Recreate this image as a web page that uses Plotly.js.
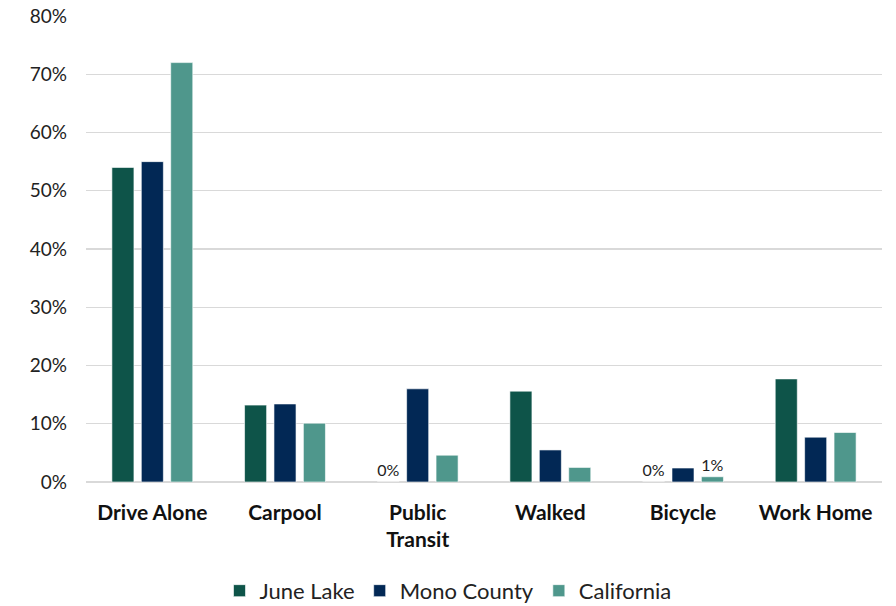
<!DOCTYPE html>
<html>
<head>
<meta charset="utf-8">
<script src="https://cdn.plot.ly/plotly-3.0.1.min.js"></script>
<style>html,body{margin:0;padding:0;background:#fff;}#chart{width:896px;height:606px;}</style>
</head>
<body>
<div id="chart"></div>
<script>
const categories = ["Drive Alone", "Carpool", "Public<br>Transit", "Walked", "Bicycle", "Work Home"];
const juneLake = [54, 13.2, 0, 15.6, 0, 17.7];
const monoCounty = [55, 13.4, 16.0, 5.5, 2.4, 7.7];
const california = [72, 10.1, 4.6, 2.5, 0.9, 8.5];
const juneLakeLabels = ["", "", "0%", "", "0%", ""];
const monoCountyLabels = ["", "", "", "", "", ""];
const californiaLabels = ["", "", "", "", "1%", ""];
const yTickVals = [0, 10, 20, 30, 40, 50, 60, 70, 80];
const yTickText = ["0%", "10%", "20%", "30%", "40%", "50%", "60%", "70%", "80%"];

const font = "Lato, 'Open Sans', sans-serif";
function series(name, y, labels, color) {
  return {
    type: "bar", name: name, x: categories, y: y, text: labels,
    textposition: "outside", cliponaxis: false, constraintext: "none",
    textfont: {family: font, size: 16, color: "#222"},
    marker: {color: color, line: {color: "rgba(255,255,255,0.6)", width: 1}},
    hoverinfo: "skip"
  };
}
const data = [
  series("June Lake", juneLake, juneLakeLabels, "#0e5449"),
  series("Mono County", monoCounty, monoCountyLabels, "#022855"),
  series("California", california, californiaLabels, "#4f978c")
];
const layout = {
  width: 896, height: 606,
  margin: {l: 86, r: 14, t: 16, b: 124, autoexpand: false},
  paper_bgcolor: "#fff", plot_bgcolor: "#fff",
  barmode: "group", bargap: 0.335, bargroupgap: 0.25,
  font: {family: font, size: 17, color: "#222"},
  showlegend: true,
  legend: {orientation: "h", x: 0.5, xanchor: "center", xref: "container",
           y: 0.025, yanchor: "middle", yref: "container",
           font: {family: font, size: 22, color: "#222"}, traceorder: "normal"},
  xaxis: {tickfont: {family: font, size: 21, color: "#111", weight: "bold"},
          showgrid: false, showline: false, ticks: "", fixedrange: true,
          ticklabelstandoff: 16, automargin: false},
  yaxis: {range: [0, 80], tickmode: "array", tickvals: yTickVals, ticktext: yTickText,
          showgrid: true, gridcolor: "#d9d9d9", gridwidth: 1.3,
          zeroline: true, zerolinecolor: "#d9d9d9", zerolinewidth: 1.3,
          tickfont: {family: font, size: 19, color: "#222"}, ticklen: 0, ticks: "",
          ticklabelstandoff: 18, showline: false, automargin: false}
};
Plotly.newPlot("chart", data, layout, {displayModeBar: false, staticPlot: true});
</script>
</body>
</html>
